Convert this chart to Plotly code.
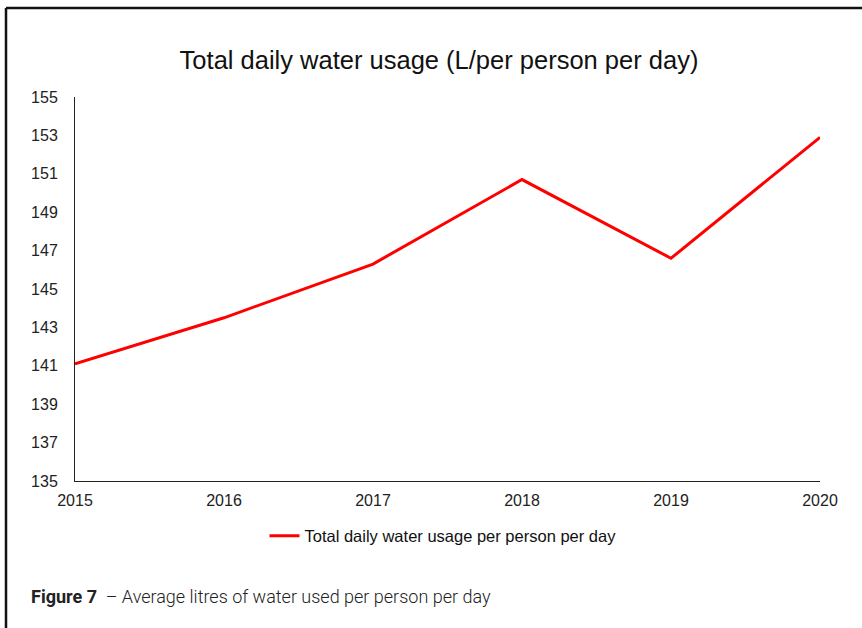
import plotly.graph_objects as go

years = [2015, 2016, 2017, 2018, 2019, 2020]
usage = [141.1, 143.5, 146.3, 150.7, 146.6, 152.9]
y_ticks = [135, 137, 139, 141, 143, 145, 147, 149, 151, 153, 155]
series_name = "Total daily water usage per person per day"
title_text = "Total daily water usage (L/per person per day)"
caption_bold = "Figure 7"
caption_rest = "  – Average litres of water used per person per day"

W, H = 862, 628
ML, MR, MT, MB = 75, 42, 97, 147
PW, PH = W - ML - MR, H - MT - MB


def px_x(p):
    return (p - ML) / PW


def px_y(p):
    return (H - MB - p) / PH


fig = go.Figure()
fig.add_trace(go.Scatter(
    x=years, y=usage, mode="lines", name=series_name,
    line=dict(color="#ff0000", width=3),
))

fig.update_layout(
    width=W, height=H,
    margin=dict(l=ML, r=MR, t=MT, b=MB),
    paper_bgcolor="white", plot_bgcolor="white",
    font=dict(family="Liberation Sans, Arial, sans-serif", color="#222", size=16),
    title=dict(text=title_text, x=439 / W, xanchor="center", xref="container",
               y=1 - 60 / H, yanchor="middle", yref="container",
               font=dict(size=25.5, color="#111")),
    xaxis=dict(range=[2015, 2020], tickvals=years, showgrid=False, zeroline=False,
               showline=True, linecolor="#222", linewidth=1, ticks="",
               tickfont=dict(size=16), ticklabelstandoff=5),
    yaxis=dict(range=[135, 155], tickvals=y_ticks, showgrid=False, zeroline=False,
               showline=True, linecolor="#222", linewidth=1, ticks="",
               tickfont=dict(size=16), ticklabelstandoff=13),
    showlegend=True,
    legend=dict(orientation="h", x=px_x(443), xanchor="center", y=px_y(536),
                yanchor="middle", font=dict(size=16.5, color="#111"),
                itemwidth=30, bgcolor="rgba(0,0,0,0)"),
    shapes=[
        dict(type="line", xref="paper", yref="paper", x0=px_x(6), x1=px_x(870),
             y0=px_y(8), y1=px_y(8), line=dict(color="#111", width=2.5)),
        dict(type="line", xref="paper", yref="paper", x0=px_x(6), x1=px_x(6),
             y0=px_y(8), y1=px_y(640), line=dict(color="#111", width=2.5)),
    ],
    annotations=[
        dict(text="<b>" + caption_bold + "</b>" + caption_rest, xref="paper", yref="paper",
             x=px_x(29), y=px_y(596), xanchor="left", yanchor="middle", showarrow=False,
             font=dict(family="Roboto, sans-serif", size=18, color="#222", weight=300)),
    ],
)

fig.write_html("out.html", config={"displayModeBar": False},
               post_script="document.body.style.margin='0';")
